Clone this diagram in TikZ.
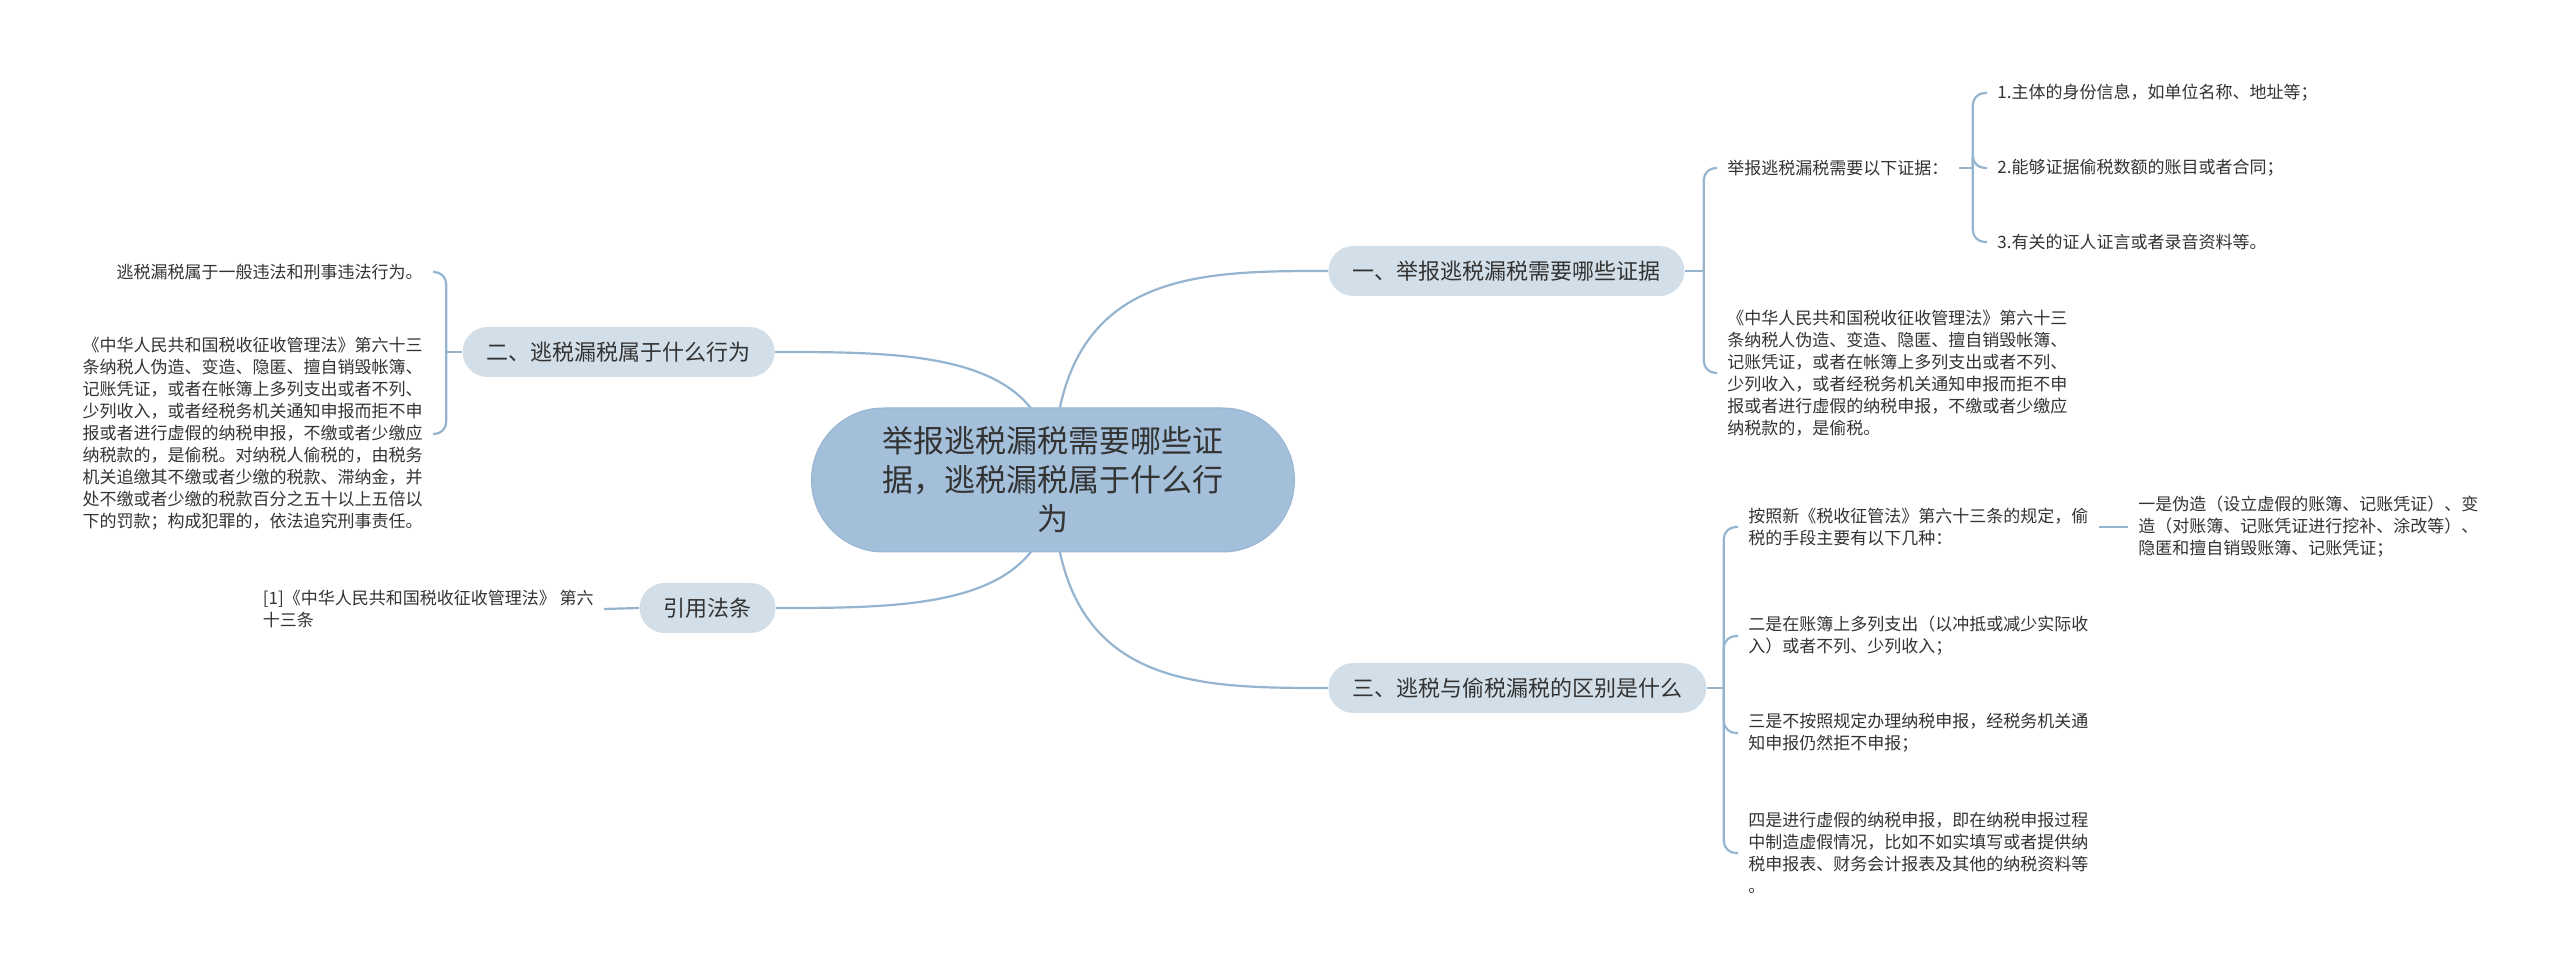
\documentclass[tikz,border=0pt]{standalone}
\usepackage{fontspec}
\setmainfont{Noto Sans CJK SC}
\usetikzlibrary{backgrounds,calc}
\definecolor{ink}{HTML}{333333}
\definecolor{rootblue}{HTML}{A3BFD9}
\definecolor{rootedge}{HTML}{97B5D2}
\definecolor{topicblue}{HTML}{D3DFE8}
\definecolor{linkblue}{HTML}{94B4D0}

\begin{document}
\begin{tikzpicture}[x=0.5pt,y=-0.5pt,
    link/.style={draw=linkblue,line width=1.1pt},
    bracket/.style={link,rounded corners=6pt},
    root/.style={fill=rootblue,draw=rootedge,line width=0.5pt,rounded corners=36pt,minimum width=241.5pt,minimum height=72pt,align=center,text=ink,font=\fontsize{15.5}{19.5}\selectfont},
    topic/.style={fill=topicblue,rounded corners=12.5pt,minimum height=25pt,inner xsep=12pt,text=ink,font=\fontsize{11}{13}\selectfont},
    leaf/.style={align=left,inner xsep=5pt,inner ysep=1pt,text=ink,font=\fontsize{8.5}{11}\selectfont}]
    \useasboundingbox (0,0) rectangle (2560,977);
    \node[root] (root) at (1053,480) {举报逃税漏税需要哪些证\\据，逃税漏税属于什么行\\为};
    \node[topic,anchor=west] (evid) at (1328,271) {一、举报逃税漏税需要哪些证据};
    \node[topic,anchor=west] (diff) at (1328,688) {三、逃税与偷税漏税的区别是什么};
    \node[topic,anchor=east] (kind) at (775,352) {二、逃税漏税属于什么行为};
    \node[topic,anchor=east] (law) at (776,608) {引用法条};

    \node[leaf,anchor=west] (evidlist) at (1717,168) {举报逃税漏税需要以下证据：};
    \node[leaf,anchor=west] (evidlaw) at (1717,373) {《中华人民共和国税收征收管理法》第六十三\\条纳税人伪造、变造、隐匿、擅自销毁帐簿、\\记账凭证，或者在帐簿上多列支出或者不列、\\少列收入，或者经税务机关通知申报而拒不申\\报或者进行虚假的纳税申报，不缴或者少缴应\\纳税款的，是偷税。};
    \node[leaf,anchor=west] (evidone) at (1987,93) {1.主体的身份信息，如单位名称、地址等；};
    \node[leaf,anchor=west] (evidtwo) at (1987,168) {2.能够证据偷税数额的账目或者合同；};
    \node[leaf,anchor=west] (evidthree) at (1987,242) {3.有关的证人证言或者录音资料等。};

    \node[leaf,anchor=west] (diffmeans) at (1738,527) {按照新《税收征管法》第六十三条的规定，偷\\税的手段主要有以下几种：};
    \node[leaf,anchor=west] (diffone) at (2128,527) {一是伪造（设立虚假的账簿、记账凭证）、变\\造（对账簿、记账凭证进行挖补、涂改等）、\\隐匿和擅自销毁账簿、记账凭证；};
    \node[leaf,anchor=west] (difftwo) at (1738,636) {二是在账簿上多列支出（以冲抵或减少实际收\\入）或者不列、少列收入；};
    \node[leaf,anchor=west] (diffthree) at (1738,733) {三是不按照规定办理纳税申报，经税务机关通\\知申报仍然拒不申报；};
    \node[leaf,anchor=west] (difffour) at (1738,853) {四是进行虚假的纳税申报，即在纳税申报过程\\中制造虚假情况，比如不如实填写或者提供纳\\税申报表、财务会计报表及其他的纳税资料等\\。};

    \node[leaf,anchor=east] (kindsum) at (433,272) {逃税漏税属于一般违法和刑事违法行为。};
    \node[leaf,anchor=east] (kindlaw) at (433,434) {《中华人民共和国税收征收管理法》第六十三\\条纳税人伪造、变造、隐匿、擅自销毁帐簿、\\记账凭证，或者在帐簿上多列支出或者不列、\\少列收入，或者经税务机关通知申报而拒不申\\报或者进行虚假的纳税申报，不缴或者少缴应\\纳税款的，是偷税。对纳税人偷税的，由税务\\机关追缴其不缴或者少缴的税款、滞纳金，并\\处不缴或者少缴的税款百分之五十以上五倍以\\下的罚款；构成犯罪的，依法追究刑事责任。};
    \node[leaf,anchor=east] (lawref) at (604,609) {[1]《中华人民共和国税收征收管理法》 第六\\十三条};

    \begin{scope}[on background layer]
        \fill[white] (0,0) rectangle (2560,977);
        \foreach \t/\a in {evid/west,diff/west,kind/east,law/east}
            \draw[link] (root.center) .. controls (root.center |- \t.\a) and ($(root.center |- \t.\a)!.5!(\t.\a)$) .. (\t.\a);
        \draw[link] (evid.east) -- ++(19,0) coordinate (evidk);
        \foreach \c in {evidlist,evidlaw} \draw[bracket] (evidk) |- (\c.west);
        \draw[link] (evidlist.east) -- ++(14,0) coordinate (listk);
        \foreach \c in {evidone,evidtwo,evidthree} \draw[bracket] (listk) |- (\c.west);
        \draw[link] (diff.east) -- ++(17,0) coordinate (diffk);
        \foreach \c in {diffmeans,difftwo,diffthree,difffour} \draw[bracket] (diffk) |- (\c.west);
        \draw[link] (diffmeans.east) -- (diffone.west);
        \draw[link] (kind.west) -- ++(-16,0) coordinate (kindk);
        \foreach \c in {kindsum,kindlaw} \draw[bracket] (kindk) |- (\c.east);
        \draw[link] (law.west) -- (lawref.east);
    \end{scope}
\end{tikzpicture}
\end{document}
